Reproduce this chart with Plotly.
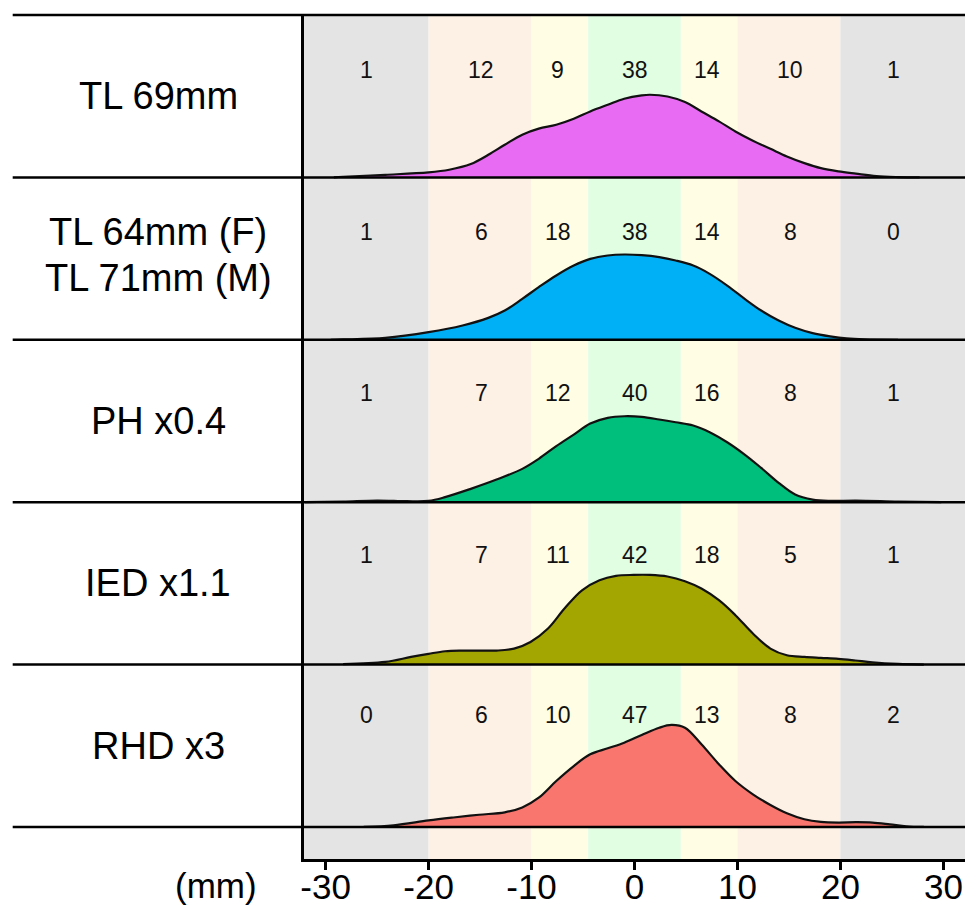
import plotly.graph_objects as go

# ---------------- data ----------------
row_labels = ["TL 69mm", "TL 64mm (F)<br>TL 71mm (M)", "PH x0.4", "IED x1.1", "RHD x3"]

band_counts = [
    [1, 12, 9, 38, 14, 10, 1],
    [1, 6, 18, 38, 14, 8, 0],
    [1, 7, 12, 40, 16, 8, 1],
    [1, 7, 11, 42, 18, 5, 1],
    [0, 6, 10, 47, 13, 8, 2],
]
band_label_x = [-26, -14.9, -7.45, 0, 7.05, 15.15, 25.2]

tl69_x = [-29.2, -28.3, -24.2, -20.0, -18.0, -15.9, -14.2, -12.6, -10.9, -9.3, -7.6, -5.9, -4.3, -2.6, -1.0,
          0.7, 1.5, 3.2, 4.9, 6.5, 8.2, 9.8, 11.5, 13.2, 14.8, 16.5, 18.1, 19.8, 21.5, 23.5, 25.6, 27.7]
tl69_d = [0, .004, .016, .031, .047, .082, .139, .201, .263, .30, .324, .361, .406, .447, .484,
          .505, .509, .498, .464, .406, .345, .283, .226, .176, .129, .088, .057, .037, .023, .008, .002, 0]

tl6471_x = [-29.5, -28.3, -24.2, -20.0, -16.7, -14.2, -12.6, -10.9, -9.3, -7.6, -5.9, -4.3, -2.6, -1.0, 0.7,
            2.4, 4.0, 5.7, 7.3, 9.0, 10.7, 12.3, 14.0, 15.6, 17.3, 19.0, 20.6, 22.3, 25.6]
tl6471_d = [0, .002, .012, .047, .088, .135, .18, .252, .324, .396, .457, .498, .519, .525, .521,
            .509, .488, .457, .406, .334, .252, .18, .119, .074, .041, .021, .008, .002, 0]

ph_x = [-32.0, -28.3, -25.0, -22.1, -20.0, -18.4, -15.9, -13.4, -10.9, -9.3, -7.6, -5.9, -4.3, -2.6, -1.0,
        0.7, 2.4, 4.0, 5.7, 7.3, 9.0, 10.7, 12.3, 14.0, 15.6, 17.3, 19.0, 21.5, 25.6, 29.8]
ph_d = [0, .004, .01, .006, .008, .031, .082, .139, .205, .267, .345, .416, .484, .519, .529,
        .525, .509, .492, .472, .431, .369, .293, .211, .119, .047, .016, .008, .01, .004, 0]

ied_x = [-28.3, -24.2, -21.7, -20.0, -18.4, -16.7, -15.1, -13.4, -11.7, -10.1, -8.4, -6.8, -5.1, -3.4, -1.8,
         -0.1, 1.5, 3.2, 4.9, 6.5, 8.2, 9.8, 11.5, 13.2, 14.8, 16.5, 18.1, 19.8, 21.45, 23.1, 25.6, 28.1]
ied_d = [.002, .016, .047, .066, .082, .086, .086, .086, .098, .139, .222, .345, .457, .519, .546,
         .552, .552, .542, .513, .468, .396, .304, .191, .098, .057, .047, .041, .035, .025, .014, .004, 0]

rhd_x = [-26.3, -23.4, -20.0, -17.6, -15.1, -12.6, -10.9, -9.3, -7.6, -5.9, -4.3, -2.6, -1.0, 0.7, 2.4,
         3.6, 4.9, 6.5, 8.2, 9.8, 11.5, 13.2, 14.8, 16.5, 18.1, 19.8, 21.5, 23.1, 24.8, 26.4, 28.1]
rhd_d = [0, .01, .04, .058, .075, .09, .12, .18, .283, .375, .447, .484, .519, .566, .611,
         .628, .611, .509, .386, .283, .201, .135, .084, .047, .031, .027, .029, .027, .016, .004, 0]

tick_vals = [-30, -20, -10, 0, 10, 20, 30]
tick_text = ["-30", "-20", "-10", "0", "10", "20", "30"]
band_edges = [-40, -20, -10, -4.5, 4.5, 10, 20, 40]

# ---------------- style ----------------
series_x = [tl69_x, tl6471_x, ph_x, ied_x, rhd_x]
series_d = [tl69_d, tl6471_d, ph_d, ied_d, rhd_d]
colors = ["#E76BF3", "#00B0F6", "#00BF7D", "#A3A500", "#F8766D"]
band_colors = ["#E4E4E4", "#FDF0E5", "#FFFEE4", "#E1FDE2", "#FFFEE4", "#FDF0E5", "#E4E4E4"]
num_offsets = [.66, .663, .672, .675, .687]
FONT = "Liberation Sans, Arial, sans-serif"

XMIN, XMAX = -32.1, 32.1
YMIN, YMAX = -0.1975, 5.0
W, H = 978, 906
ML, MR, MT, MB = 304, 13, 14.7, 46.7


def ypaper(y):
    return (y - YMIN) / (YMAX - YMIN)


fig = go.Figure()
n = len(row_labels)
for i in range(n):
    base = n - 1 - i
    fig.add_trace(go.Scatter(x=[XMIN, XMAX], y=[base, base], mode="lines",
                             line=dict(width=0, color="rgba(0,0,0,0)"),
                             hoverinfo="skip", showlegend=False))
    fig.add_trace(go.Scatter(x=series_x[i], y=[base + d for d in series_d[i]], mode="lines",
                             line=dict(color="#111111", width=2.2, shape="spline", smoothing=1),
                             fill="tonexty", fillcolor=colors[i],
                             hoverinfo="skip", showlegend=False))

shapes = []
for j in range(len(band_colors)):
    shapes.append(dict(type="rect", xref="x", yref="paper", x0=band_edges[j], x1=band_edges[j + 1],
                       y0=0, y1=1, fillcolor=band_colors[j], line=dict(width=0), layer="below"))
xl = (12.7 - ML) / (W - ML - MR)
for k in range(n + 1):
    shapes.append(dict(type="line", xref="paper", yref="paper", x0=xl, x1=1,
                       y0=ypaper(k), y1=ypaper(k), line=dict(color="black", width=2.5), layer="above"))

annotations = []
xlab = (158 - ML) / (W - ML - MR)
for i, lab in enumerate(row_labels):
    base = n - 1 - i
    if "<br>" in lab:
        parts = lab.split("<br>")
        annotations.append(dict(xref="paper", yref="y", x=xlab, y=base + 0.663, text=parts[0],
                                xanchor="center", yanchor="middle",
                                showarrow=False, font=dict(size=38, family=FONT, color="black")))
        annotations.append(dict(xref="paper", yref="y", x=xlab, y=base + 0.38, text=parts[1],
                                xanchor="center", yanchor="middle",
                                showarrow=False, font=dict(size=38, family=FONT, color="black")))
    else:
        annotations.append(dict(xref="paper", yref="y", x=xlab, y=base + 0.5, text=lab,
                                xanchor="center", yanchor="middle",
                                showarrow=False, font=dict(size=38, family=FONT, color="black")))
    for bx, c in zip(band_label_x, band_counts[i]):
        annotations.append(dict(xref="x", yref="y", x=bx, y=base + num_offsets[i], text=str(c),
                                xanchor="center", yanchor="middle",
                                showarrow=False, font=dict(size=23, family=FONT, color="#111111")))
annotations.append(dict(xref="paper", yref="paper", x=(216 - ML) / (W - ML - MR), y=-(886 - 859.3) / (H - MT - MB),
                        text="(mm)", showarrow=False, xanchor="center", yanchor="middle",
                        font=dict(size=35, family=FONT, color="black")))

fig.update_layout(
    width=W, height=H, autosize=False,
    margin=dict(l=ML, r=MR, t=MT, b=MB, pad=0, autoexpand=False),
    paper_bgcolor="white", plot_bgcolor="white",
    shapes=shapes, annotations=annotations,
    xaxis=dict(range=[XMIN, XMAX], tickvals=tick_vals, ticktext=tick_text,
               ticks="outside", ticklen=8, tickwidth=2.5, tickcolor="black",
               ticklabelstandoff=-13,
               showline=True, linecolor="black", linewidth=2.5,
               showgrid=False, zeroline=False, automargin=False,
               tickfont=dict(size=35, family=FONT, color="black")),
    yaxis=dict(range=[YMIN, YMAX], showline=True, linecolor="black", linewidth=2.5,
               showgrid=False, zeroline=False, showticklabels=False, ticks="", automargin=False),
    showlegend=False,
)

fig.write_html("out.html", config={"responsive": False, "displayModeBar": False},
               post_script="document.body.style.margin='0';document.body.style.overflow='hidden';")
